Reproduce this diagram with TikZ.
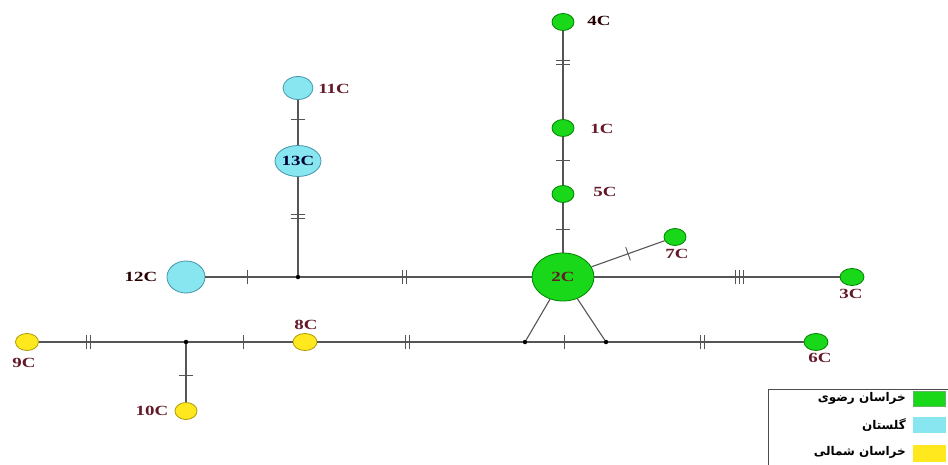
\documentclass[tikz,border=0pt]{standalone}
\usepackage{fontspec}
\setmainfont{Liberation Serif}
\newfontfamily\lblfont[FakeStretch=1.35]{Liberation Serif}
\newfontfamily\arabicfont[Script=Arabic]{DejaVu Sans}
\TeXXeTstate=1
\usetikzlibrary{shapes.geometric,decorations.markings}

\definecolor{greenfill}{RGB}{25,215,25}
\definecolor{greenedge}{RGB}{0,130,0}
\definecolor{cyanfill}{RGB}{135,230,240}
\definecolor{cyanedge}{RGB}{70,150,170}
\definecolor{yellowfill}{RGB}{255,232,30}
\definecolor{yellowedge}{RGB}{175,155,0}
\definecolor{labelred}{RGB}{100,25,40}
\definecolor{edgegray}{RGB}{85,85,85}

\tikzset{
  hap/.style={ellipse, draw, line width=0.8pt, inner sep=0pt},
  grn/.style={hap, fill=greenfill, draw=greenedge},
  cyn/.style={hap, fill=cyanfill, draw=cyanedge},
  ylw/.style={hap, fill=yellowfill, draw=yellowedge},
  lblfnt/.style={font=\lblfont\bfseries\fontsize{14}{14}\selectfont},
  lbl/.style={lblfnt, text=labelred, inner sep=0pt},
  junc/.style={circle, fill=black, inner sep=0pt, minimum size=4.5pt},
  link/.style={draw=edgegray, line width=1.1pt},
  tickone/.style={postaction={decorate, decoration={markings,
      mark=at position #1 with {\draw[edgegray, line width=0.9pt] (0,-7pt) -- (0,7pt);}}}},
  ticktwo/.style={postaction={decorate, decoration={markings,
      mark=at position #1 with {\draw[edgegray, line width=0.9pt] (-2pt,-7pt) -- (-2pt,7pt) (2pt,-7pt) -- (2pt,7pt);}}}},
  tickthree/.style={postaction={decorate, decoration={markings,
      mark=at position #1 with {\draw[edgegray, line width=0.9pt] (-4pt,-7pt) -- (-4pt,7pt) (0pt,-7pt) -- (0pt,7pt) (4pt,-7pt) -- (4pt,7pt);}}}},
  legtext/.style={font=\arabicfont\bfseries\fontsize{12}{12}\selectfont, anchor=east, inner sep=0pt},
}

\begin{document}
\begin{tikzpicture}[x=1pt, y=-1pt]
  \useasboundingbox (0,0) rectangle (948,465);

  % haplotype nodes
  \node[grn, minimum width=22pt, minimum height=17pt] (c4) at (563,22) {};
  \node[grn, minimum width=22pt, minimum height=17pt] (c1) at (563,128) {};
  \node[grn, minimum width=22pt, minimum height=17pt] (c5) at (563,194) {};
  \node[grn, minimum width=62pt, minimum height=48pt, lblfnt, text=labelred] (c2) at (563,277) {2C};
  \node[grn, minimum width=22pt, minimum height=17pt] (c7) at (675,237) {};
  \node[grn, minimum width=24pt, minimum height=17pt] (c3) at (852,277) {};
  \node[grn, minimum width=24pt, minimum height=17pt] (c6) at (816,342) {};
  \node[cyn, minimum width=38pt, minimum height=32pt] (c12) at (186,277) {};
  \node[cyn, minimum width=42pt, minimum height=31pt, lblfnt, text=black!80!blue] (c13) at (298,161) {13C};
  \node[cyn, minimum width=30pt, minimum height=23pt] (c11) at (298,88) {};
  \node[ylw, minimum width=23pt, minimum height=17pt] (c9) at (27,342) {};
  \node[ylw, minimum width=24pt, minimum height=17pt] (c8) at (305,342) {};
  \node[ylw, minimum width=22pt, minimum height=17pt] (c10) at (186,411) {};

  % median vectors
  \node[junc] (m1) at (298,277) {};
  \node[junc] (m2) at (186,342) {};
  \node[junc] (m3) at (525,342) {};
  \node[junc] (m4) at (606,342) {};

  % labels
  \node[lbl, text=black!85!red] (l4) at (599,21) {4C};
  \node[lbl] (l1) at (602,129) {1C};
  \node[lbl] (l5) at (605,192) {5C};
  \node[lbl] (l7) at (677,254) {7C};
  \node[lbl] (l3) at (851,294) {3C};
  \node[lbl] (l6) at (820,358) {6C};
  \node[lbl, text=black!85!red] (l12) at (141,277) {12C};
  \node[lbl] (l11) at (334,89) {11C};
  \node[lbl] (l9) at (24,363) {9C};
  \node[lbl] (l10) at (152,411) {10C};
  \node[lbl] (l8) at (306,325) {8C};

  % mutational steps
  \path[link, ticktwo=0.36] (c4) -- (c1);
  \path[link, tickone=0.48] (c1) -- (c5);
  \path[link, tickone=0.54] (c5) -- (c2);
  \path[link, tickone=0.5] (c2) -- (c7);
  \path[link, tickthree=0.59] (c2) -- (c3);
  \path[link, tickone=0.47] (c12) -- (m1);
  \path[link, ticktwo=0.45] (m1) -- (c2);
  \path[link, ticktwo=0.6] (m1) -- (c13);
  \path[link, tickone=0.56] (c13) -- (c11);
  \path[link, ticktwo=0.34] (c9) -- (m2);
  \path[link, tickone=0.53] (m2) -- (c8);
  \path[link, tickone=0.54] (m2) -- (c10);
  \path[link, ticktwo=0.44] (c8) -- (m3);
  \path[link, tickone=0.49] (m3) -- (m4);
  \path[link, ticktwo=0.48] (m4) -- (c6);
  \path[link] (c2) -- (m3);
  \path[link] (c2) -- (m4);

  % legend
  \begin{scope}
    \clip (0,0) rectangle (948,465);
    \node[draw=black!70, line width=0.8pt, minimum width=200pt, minimum height=90pt, anchor=north west, inner sep=0pt] (legend) at (768,389) {};
  \end{scope}
  \node[fill=greenfill, draw=greenedge!60, minimum width=32pt, minimum height=15pt, inner sep=0pt] (s1) at (929,399) {};
  \node[fill=cyanfill, draw=cyanfill, minimum width=32pt, minimum height=15pt, inner sep=0pt] (s2) at (929,425) {};
  \node[fill=yellowfill, draw=yellowfill, minimum width=32pt, minimum height=16pt, inner sep=0pt] (s3) at (929,453) {};
  \node[legtext] (t1) at (906,398) {\beginR خراسان رضوی\endR};
  \node[legtext] (t2) at (906,425) {\beginR گلستان\endR};
  \node[legtext] (t3) at (906,452) {\beginR خراسان شمالی\endR};
\end{tikzpicture}
\end{document}
